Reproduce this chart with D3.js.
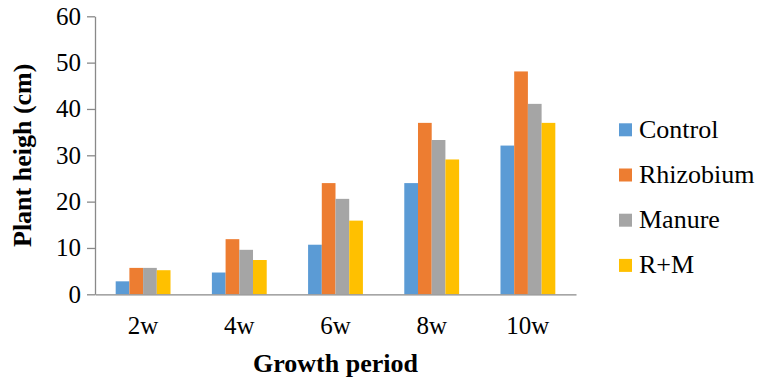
<!DOCTYPE html>
<html>
<head>
<meta charset="utf-8">
<script src="https://cdn.jsdelivr.net/npm/d3@7"></script>
<style>
  html, body { margin: 0; padding: 0; background: #fff; }
  svg { display: block; }
</style>
</head>
<body>
<svg id="chart" width="760" height="378"></svg>
<script>
// Plant height (cm) by growth period for each treatment
const periods = ["2w", "4w", "6w", "8w", "10w"];
const treatments = ["Control", "Rhizobium", "Manure", "R+M"];
const control   = [2.8, 4.7, 10.7, 24.0, 32.1];
const rhizobium = [5.7, 11.9, 24.0, 37.0, 48.1];
const manure    = [5.7, 9.6, 20.6, 33.3, 41.1];
const rm        = [5.2, 7.4, 15.9, 29.1, 37.0];
const yTicks = [0, 10, 20, 30, 40, 50, 60];
const colors = ["#5B9BD5", "#ED7D31", "#A5A5A5", "#FFC000"];

const seriesValues = [control, rhizobium, manure, rm];
const serif = "'Liberation Serif'";

const svg = d3.select("#chart");
const plot = { left: 95, right: 576, top: 16.3, bottom: 294.3 };

const x = d3.scaleBand().domain(periods).range([plot.left, plot.right]).paddingInner(0.43).paddingOuter(0.215);
const xs = d3.scaleBand().domain(treatments).range([0, x.bandwidth()]);
const y = d3.scaleLinear().domain([0, 60]).range([plot.bottom, plot.top]);

const axisColor = "#898989";

// bars
const groups = svg.append("g").selectAll("g")
  .data(periods)
  .join("g")
  .attr("transform", d => `translate(${x(d)},0)`);

groups.selectAll("rect")
  .data((p, i) => treatments.map((t, k) => ({ t, v: seriesValues[k][i], c: colors[k] })))
  .join("rect")
  .attr("x", d => xs(d.t))
  .attr("width", xs.bandwidth())
  .attr("y", d => y(d.v))
  .attr("height", d => y(0) - y(d.v))
  .attr("fill", d => d.c);

// y axis
const yAxis = svg.append("g")
  .attr("transform", `translate(${plot.left},0)`)
  .call(d3.axisLeft(y).tickValues(yTicks).tickSize(8).tickPadding(6).tickSizeOuter(0));
yAxis.attr("font-family", serif).attr("font-size", 25);
yAxis.select(".domain").attr("stroke", axisColor).attr("stroke-width", 1.3);
yAxis.selectAll(".tick line").attr("stroke", axisColor).attr("stroke-width", 1.3);
yAxis.selectAll(".tick text").attr("fill", "#000");

// x axis
const xAxis = svg.append("g")
  .attr("transform", `translate(0,${plot.bottom})`)
  .call(d3.axisBottom(x).tickSize(0).tickPadding(22).tickSizeOuter(0));
xAxis.attr("font-family", serif).attr("font-size", 25);
xAxis.select(".domain").attr("stroke", axisColor).attr("stroke-width", 1.3);
xAxis.selectAll(".tick text").attr("fill", "#000");

// axis titles
svg.append("text")
  .attr("x", (plot.left + plot.right) / 2)
  .attr("y", 372)
  .attr("text-anchor", "middle")
  .attr("font-family", serif)
  .attr("font-size", 26)
  .attr("font-weight", "bold")
  .text("Growth period");

svg.append("text")
  .attr("transform", `translate(31,${(plot.top + plot.bottom) / 2}) rotate(-90)`)
  .attr("text-anchor", "middle")
  .attr("font-family", serif)
  .attr("font-size", 26)
  .attr("font-weight", "bold")
  .text("Plant heigh (cm)");

// legend
const legend = svg.append("g").attr("transform", "translate(619,123.3)");
const items = legend.selectAll("g")
  .data(treatments)
  .join("g")
  .attr("transform", (d, i) => `translate(0,${i * 45.2})`);
items.append("rect")
  .attr("width", 13)
  .attr("height", 13)
  .attr("fill", (d, i) => colors[i]);
items.append("text")
  .attr("x", 20)
  .attr("y", 14.5)
  .attr("font-family", serif)
  .attr("font-size", 26)
  .text(d => d);
</script>
</body>
</html>
